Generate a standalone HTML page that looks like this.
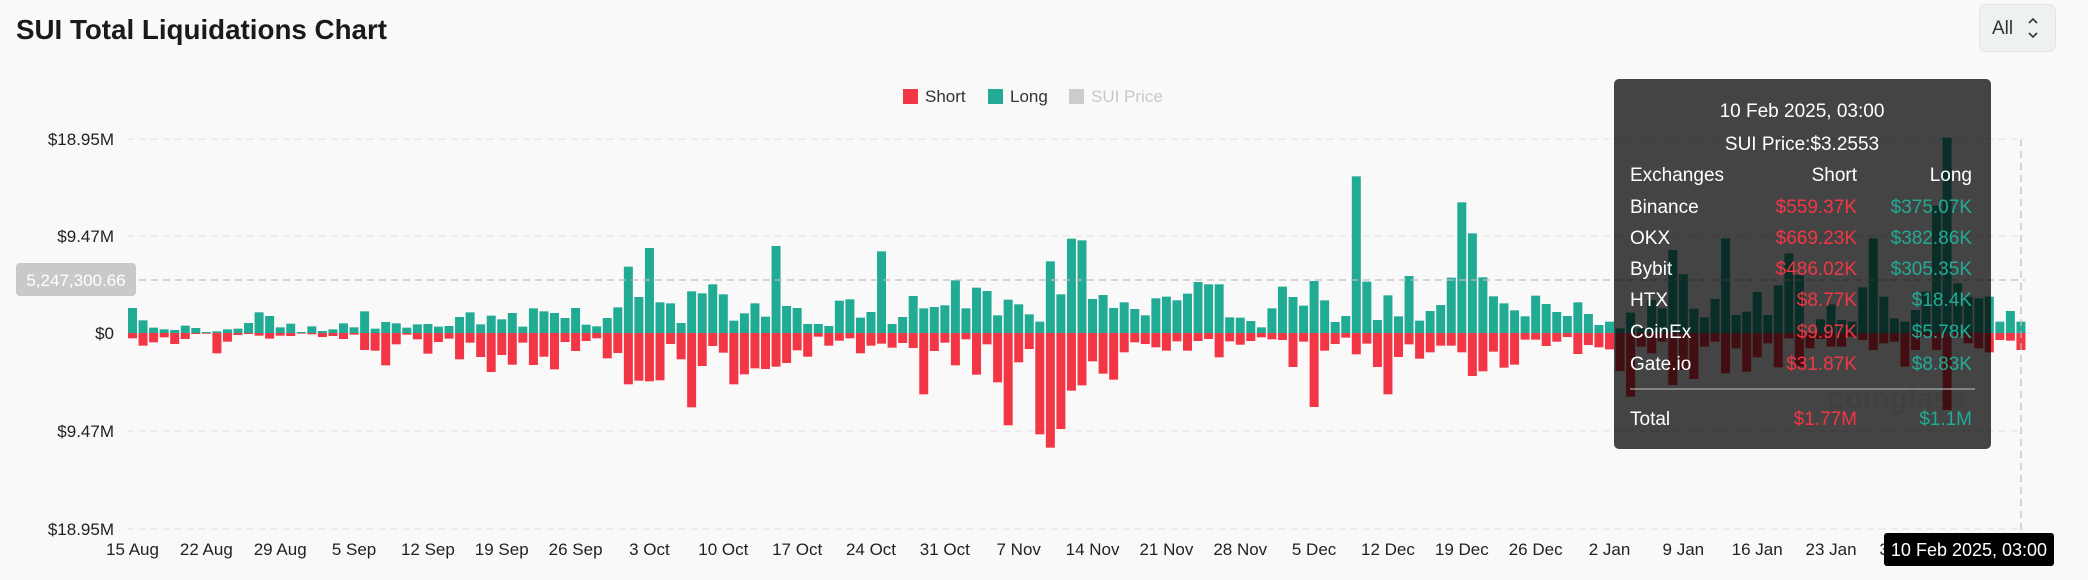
<!DOCTYPE html>
<html><head><meta charset="utf-8">
<style>
html,body{margin:0;padding:0;background:#f9f9f9;}
svg{display:block;font-family:"Liberation Sans",sans-serif;}
</style></head>
<body>
<svg id="c" width="2088" height="580" viewBox="0 0 2088 580" xmlns="http://www.w3.org/2000/svg">
<rect width="2088" height="580" fill="#f9f9f9"/>
<text x="16" y="39" font-size="28" font-weight="bold" fill="#1a1a1a" textLength="371" lengthAdjust="spacingAndGlyphs">SUI Total Liquidations Chart</text>
<rect x="1979.5" y="4.5" width="76" height="47" rx="7" fill="#eef1f2" stroke="#e0e4e6"/>
<text x="1992" y="34" font-size="19" fill="#333">All</text>
<path d="M2029 23 l4 -4 l4 4 M2029 33 l4 4 l4 -4" stroke="#333" stroke-width="1.6" fill="none"/>
<rect x="903" y="89" width="15" height="15" fill="#f23645"/>
<text x="925" y="102" font-size="17" fill="#333">Short</text>
<rect x="988" y="89" width="15" height="15" fill="#22ab94"/>
<text x="1010" y="102" font-size="17" fill="#333">Long</text>
<rect x="1069" y="89" width="15" height="15" fill="#cccccc"/>
<text x="1091" y="102" font-size="17" fill="#c8c8c8">SUI Price</text>
<g stroke="#e6e6e6" stroke-width="1.2" stroke-dasharray="7,5">
<line x1="127" y1="139" x2="2025" y2="139"/>
<line x1="127" y1="236" x2="2025" y2="236"/>
<line x1="127" y1="431" x2="2025" y2="431"/>
<line x1="127" y1="529" x2="2025" y2="529"/>
</g>
<g font-size="17" fill="#222" text-anchor="end">
<text x="114" y="145">$18.95M</text>
<text x="114" y="242">$9.47M</text>
<text x="114" y="339">$0</text>
<text x="114" y="437">$9.47M</text>
<text x="114" y="535">$18.95M</text>
</g>
<g id="bars"></g>
<g id="xl" font-size="17" fill="#222" text-anchor="middle"></g>
<line x1="127" y1="280" x2="2025" y2="280" stroke="#bdbdbd" stroke-width="1.2" stroke-dasharray="7,5"/>
<line x1="2021" y1="139" x2="2021" y2="533" stroke="#bdbdbd" stroke-width="1.2" stroke-dasharray="7,5"/>
<rect x="16" y="263" width="120" height="33" rx="4" fill="#c9c9c9"/>
<text x="76" y="286" font-size="17" fill="#fff" text-anchor="middle">5,247,300.66</text>
<text x="1828" y="408" font-size="30" font-weight="bold" fill="#000" fill-opacity="0.05">coinglass</text>
<rect x="1614" y="79" width="377" height="370" rx="5" fill="rgb(0,0,0)" fill-opacity="0.73"/>
<g font-size="19" fill="#fff">
<text x="1802" y="117" text-anchor="middle">10 Feb 2025, 03:00</text>
<text x="1802" y="150" text-anchor="middle">SUI Price:$3.2553</text>
<text x="1630" y="181">Exchanges</text>
<text x="1857" y="181" text-anchor="end">Short</text>
<text x="1972" y="181" text-anchor="end">Long</text>
<text x="1630" y="213">Binance</text>
<text x="1630" y="244">OKX</text>
<text x="1630" y="275">Bybit</text>
<text x="1630" y="306">HTX</text>
<text x="1630" y="338">CoinEx</text>
<text x="1630" y="370">Gate.io</text>
<text x="1630" y="425">Total</text>
</g>
<g font-size="19" fill="#f23645" text-anchor="end">
<text x="1857" y="213">$559.37K</text>
<text x="1857" y="244">$669.23K</text>
<text x="1857" y="275">$486.02K</text>
<text x="1857" y="306">$8.77K</text>
<text x="1857" y="338">$9.97K</text>
<text x="1857" y="370">$31.87K</text>
<text x="1857" y="425">$1.77M</text>
</g>
<g font-size="19" fill="#22ab94" text-anchor="end">
<text x="1972" y="213">$375.07K</text>
<text x="1972" y="244">$382.86K</text>
<text x="1972" y="275">$305.35K</text>
<text x="1972" y="306">$18.4K</text>
<text x="1972" y="338">$5.78K</text>
<text x="1972" y="370">$8.83K</text>
<text x="1972" y="425">$1.1M</text>
</g>
<line x1="1630" y1="389" x2="1975" y2="389" stroke="#aaa" stroke-width="1.2"/>
<rect x="1884" y="533" width="170" height="33" rx="3" fill="#000"/>
<text x="1969" y="556" font-size="18" fill="#fff" text-anchor="middle">10 Feb 2025, 03:00</text>
</svg>
<script>
var L1=[444,481,503,508,510,497,504,516,514,508,506,489,457,468,502,491,516,499,513,508,490,502,454,506,486,490,503,493,492,500,498,471,457,493,467,478,459,
500,445,454,459,474,444,494,499,474,442,320,411,264,427,430,489,394,400,373,403,482,460,430,470,258,438,444,492,492,498,422,418,473,456,274,492,471,
408,445,441,436,361,445,383,393,466,419,433,463,485,304,403,236,241,417,405,444,427,447,466,415,410,421,401,366,373,373,472,473,483,502,445,380,411,
437,363,421,486,468,49,365,480,406,469,348,482,453,435,353,127,220,352,409,430,451,469,407,432,456,468,427,462,495,485,505];
var S1=[535,557,547,532,552,537,522,521,580,545,525,522,527,536,527,528,520,523,531,528,537,524,570,572,616,553,524,538,581,546,536,598,548,591,636,585,614,
548,615,590,628,546,573,543,535,595,579,673,662,664,661,552,598,742,618,558,578,673,643,625,627,620,609,571,590,530,557,542,535,580,557,551,563,549,
564,703,573,548,616,538,644,553,667,796,607,567,823,863,807,692,676,604,641,659,577,547,552,562,572,544,572,543,537,592,544,554,543,532,538,540,621,
545,741,572,552,533,583,551,621,703,591,553,596,577,557,557,577,648,634,575,623,614,539,539,558,545,531,582,555,562,568,633];
var L2=[578,625,540,565,390,463,566,592,537,355,585,575,516,585,496,400,465,640,598,553,600,605,502,355,530,595,605,570,515,257,53,490,530,535,530,605,573,605];
var S2=[830,680,700,665,795,750,777,680,665,760,685,755,712,670,742,655,740,685,657,680,680,650,660,690,670,665,740,690,650,690,870,650,670,685,697,660,662,690];
var lh=[],sh=[];
for(var i=0;i<L1.length;i++){lh.push((519-L1[i])/3);sh.push((S1[i]-519)/3);}
for(var i=0;i<L2.length;i++){lh.push(Math.max(0,(639-L2[i])/3));sh.push(Math.max(0,(S2[i]-639)/3));}
var ns="http://www.w3.org/2000/svg",g=document.getElementById("bars"),Z=333,P=10.55,W=9;
function r(x,y,w,h,f){var e=document.createElementNS(ns,"rect");e.setAttribute("x",x);e.setAttribute("y",y);e.setAttribute("width",w);e.setAttribute("height",Math.max(h,0.6));e.setAttribute("fill",f);g.appendChild(e);}
for(var i=0;i<lh.length;i++){var x=128+i*P;r(x,Z-lh[i],W,lh[i],"#22ab94");r(x,Z,W,sh[i],"#f23645");}
var m=["Jan","Feb","Mar","Apr","May","Jun","Jul","Aug","Sep","Oct","Nov","Dec"],xl=document.getElementById("xl");
for(var k=0;k<=24;k++){var d=new Date(Date.UTC(2024,7,15+7*k));var t=document.createElementNS(ns,"text");t.setAttribute("x",132.5+7*k*P);t.setAttribute("y",555);t.textContent=d.getUTCDate()+" "+m[d.getUTCMonth()];xl.appendChild(t);}
</script>
</body></html>
